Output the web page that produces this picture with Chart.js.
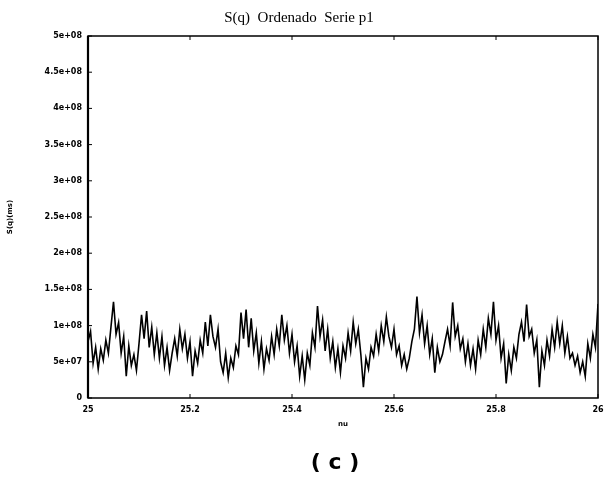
<!DOCTYPE html>
<html>
<head>
<meta charset="utf-8">
<script src="https://cdn.jsdelivr.net/npm/chart.js@4/dist/chart.umd.min.js"></script>
<style>
  html, body { margin: 0; padding: 0; background: #ffffff; }
  #wrap { width: 608px; height: 482px; }
</style>
</head>
<body>
<div id="wrap"><canvas id="c" width="608" height="482"></canvas></div>
<script>
// ---- data ----
const chartTitle = 'S(q)  Ordenado  Serie p1';
const xTitle = 'nu';
const yTitle = 'S(q)(ms)';
const caption = '( c )';
const nuStart = 25;
const nuStep = 0.005;
const xTickLabels = ['25', '25.2', '25.4', '25.6', '25.8', '26'];
const yTickLabels = ['0', '5e+07', '1e+08', '1.5e+08', '2e+08', '2.5e+08', '3e+08', '3.5e+08', '4e+08', '4.5e+08', '5e+08'];
const valueUnit = 1e6; // values below are in millions
const sqMillions = [
  78, 92, 48, 70, 40, 68, 52, 80, 62, 98,
  133, 88, 104, 62, 85, 30, 72, 45, 60, 38,
  75, 115, 82, 120, 70, 98, 60, 90, 55, 85,
  45, 70, 38, 62, 82, 58, 95, 68, 88, 55,
  78, 30, 65, 48, 80, 62, 105, 72, 115, 85,
  70, 95, 50, 35, 62, 28, 55, 42, 72, 60,
  118, 82, 122, 70, 110, 65, 90, 48, 78, 40,
  68, 52, 85, 60, 95, 72, 115, 80, 100, 62,
  88, 50, 72, 30, 58, 25, 62, 45, 90, 70,
  127, 85, 108, 65, 95, 55, 78, 42, 68, 35,
  72, 55, 90, 65, 105, 75, 95, 60, 15, 55,
  40, 70, 58, 88, 65, 100, 78, 112, 85, 70,
  95, 60, 72, 45, 60, 40, 55, 78, 95, 140,
  90, 115, 75, 100, 60, 82, 35, 70, 50, 60,
  78, 95, 72, 132, 85, 100, 68, 82, 50, 75,
  45, 68, 40, 80, 60, 95, 70, 110, 88, 133,
  80, 100, 55, 75, 20, 60, 38, 70, 55, 88,
  105, 78, 129, 85, 95, 62, 80, 15, 65, 45,
  80, 58, 95, 70, 105, 75, 100, 62, 85, 55,
  62, 45, 58, 35, 50, 30, 75, 55, 88, 70, 130
];

// ---- build points ----
const points = sqMillions.map((v, i) => ({ x: nuStart + i * nuStep, y: v * valueUnit }));

const labelFont = { family: 'DejaVu Sans', size: 8, weight: 'bold' };

const frameTicks = {
  id: 'frameTicks',
  afterDatasetsDraw(chart) {
    const { ctx, chartArea: a, scales } = chart;
    ctx.save();
    ctx.strokeStyle = '#000';
    ctx.lineWidth = 1.5;
    ctx.strokeRect(a.left, a.top, a.right - a.left, a.bottom - a.top);
    ctx.lineWidth = 2.2;
    ctx.beginPath(); ctx.moveTo(a.left, a.top); ctx.lineTo(a.left, a.bottom); ctx.stroke();
    ctx.lineWidth = 1;
    const t = 4;
    scales.y.ticks.forEach(tk => {
      const y = scales.y.getPixelForValue(tk.value);
      ctx.beginPath(); ctx.moveTo(a.left, y); ctx.lineTo(a.left + t, y); ctx.stroke();
    });
    scales.x.ticks.forEach(tk => {
      const x = scales.x.getPixelForValue(tk.value);
      ctx.beginPath(); ctx.moveTo(x, a.bottom); ctx.lineTo(x, a.bottom - t); ctx.stroke();
      ctx.beginPath(); ctx.moveTo(x, a.top); ctx.lineTo(x, a.top + t); ctx.stroke();
    });
    ctx.restore();
  },
  afterDraw(chart) {
    const { ctx } = chart;
    ctx.save();
    ctx.fillStyle = '#000';
    ctx.font = 'bold 22px "DejaVu Sans"';
    ctx.textAlign = 'center';
    ctx.textBaseline = 'middle';
    ctx.fillText(caption, 335, 463);
    ctx.restore();
  }
};

new Chart(document.getElementById('c'), {
  type: 'line',
  data: {
    datasets: [{
      data: points,
      borderColor: '#000',
      borderWidth: 1.6,
      pointRadius: 0,
      tension: 0,
      fill: false
    }]
  },
  options: {
    responsive: false,
    animation: false,
    layout: { padding: { left: 0, right: 10, top: 0, bottom: 0 } },
    plugins: {
      legend: { display: false },
      tooltip: { enabled: false },
      title: {
        display: true,
        text: chartTitle,
        color: '#000',
        font: { family: 'Liberation Serif', size: 15, weight: 'normal', lineHeight: 1.2 },
        padding: { top: 9, bottom: 9 }
      }
    },
    scales: {
      x: {
        type: 'linear',
        min: 25, max: 26,
        grid: { display: false, drawTicks: false },
        border: { display: false },
        ticks: {
          stepSize: 0.2,
          padding: 7,
          color: '#000',
          font: labelFont,
          maxRotation: 0,
          callback: (v, i) => xTickLabels[i]
        },
        title: {
          display: true, text: xTitle, color: '#000',
          font: { family: 'DejaVu Sans', size: 7, weight: 'bold', lineHeight: 1.2 },
          padding: { top: 0, bottom: 54 }
        },
        afterFit(s) { s.height = 84; s.paddingLeft = 0; s.paddingRight = 0; }
      },
      y: {
        type: 'linear',
        min: 0, max: 5e8,
        grid: { display: false, drawTicks: false },
        border: { display: false },
        ticks: {
          stepSize: 5e7,
          padding: 6,
          color: '#000',
          font: labelFont,
          callback: (v, i) => yTickLabels[i]
        },
        title: {
          display: true, text: yTitle, color: '#000',
          font: { family: 'DejaVu Sans', size: 7, weight: 'bold', lineHeight: 1.2 },
          padding: { top: 6, bottom: 0 }
        },
        afterFit(s) { s.width = 88; }
      }
    }
  },
  plugins: [frameTicks]
});
</script>
</body>
</html>
